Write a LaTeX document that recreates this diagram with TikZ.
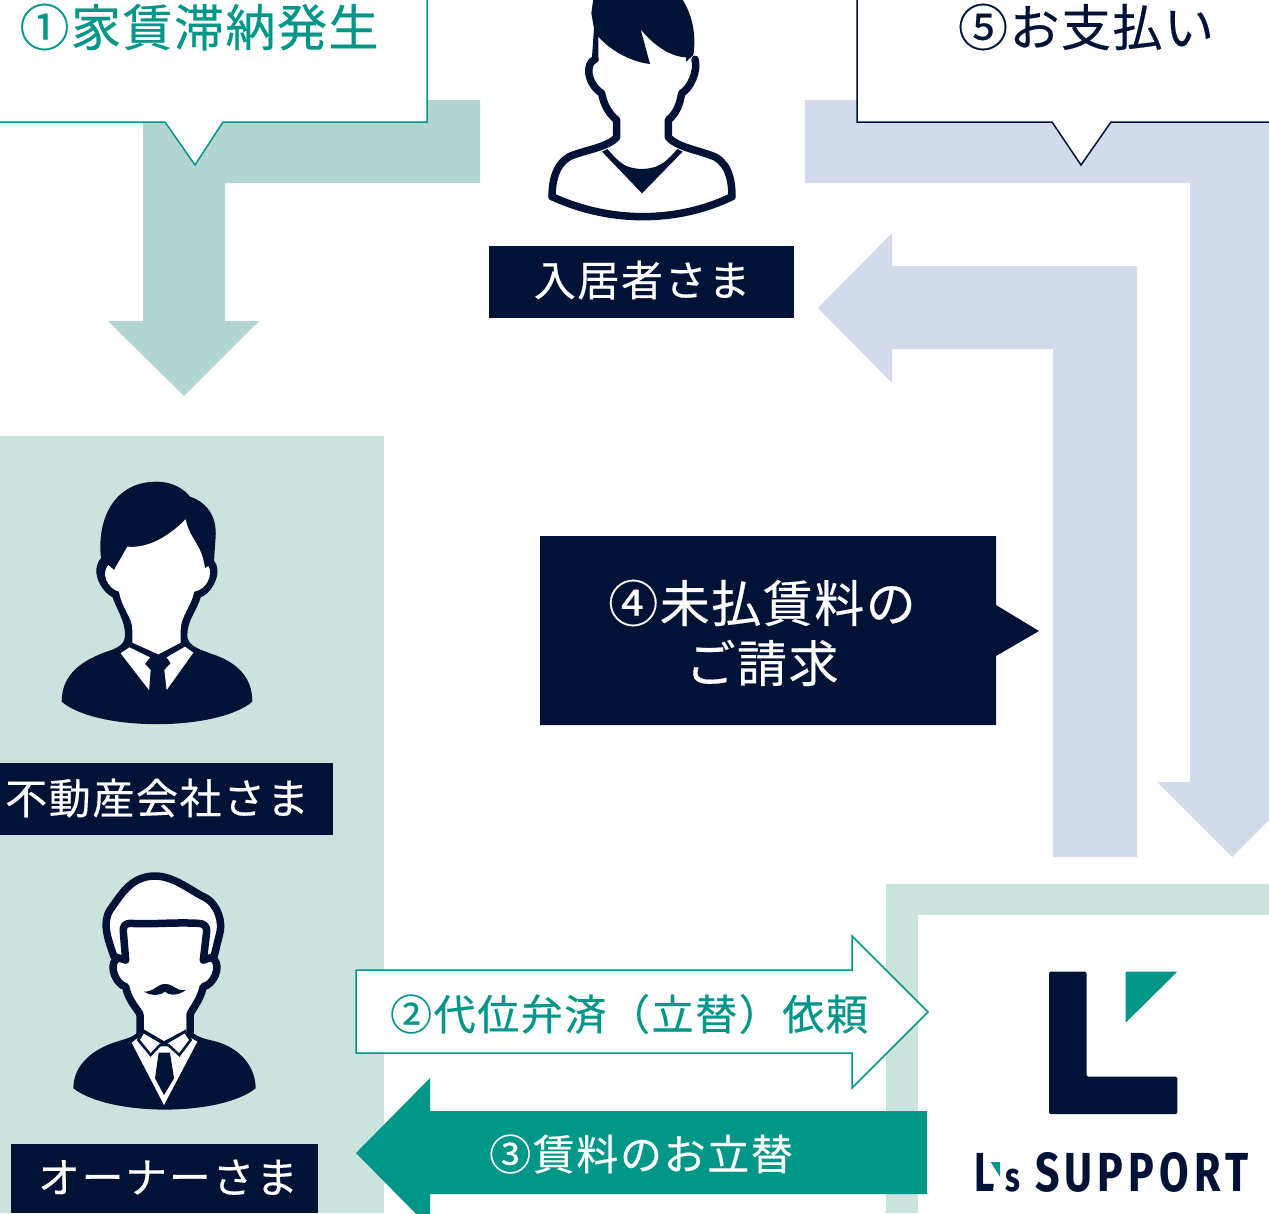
\documentclass[tikz,border=0pt]{standalone}
\usepackage{fontspec}
\newfontfamily\jp{Noto Sans CJK JP}[FakeBold=0.35]
\newfontfamily\logofont{Fira Sans}[BoldFont={Fira Sans Bold}]
\definecolor{navy}{HTML}{001236}
\definecolor{teal1}{HTML}{009688}
\definecolor{arrowteal}{HTML}{B2D5D2}
\definecolor{panelteal}{HTML}{CBE3DF}
\definecolor{lav}{HTML}{D3DAEC}
\tikzset{
  big/.style={anchor=base,inner sep=0pt,font=\jp\fontsize{50}{50}\selectfont\addfontfeature{LetterSpace=3}},
  small/.style={anchor=base,inner sep=0pt,font=\jp\fontsize{42}{42}\selectfont\addfontfeature{LetterSpace=3.8}},
  stkz/.style={draw=navy,line width=7.5pt,line join=round,line cap=round},
}
\begin{document}
\begin{tikzpicture}[x=1pt,y=-1pt]
\useasboundingbox (0,0) rectangle (1269,1213);
\begin{scope}
\clip (0,0) rectangle (1269,1213);
\fill[white] (0,0) rectangle (1269,1213);
% panels
\fill[panelteal] (0,436) rectangle (384,1213);
\fill[panelteal] (886,884) rectangle (1269,1213);
\fill[white] (918,915) rectangle (1269,1213);
% big arrows
\fill[arrowteal] (480,100) -- (143,100) -- (143,321) -- (108,321) -- (184,396) -- (259,321) -- (225,321) -- (225,183) -- (480,183) -- cycle;
\fill[lav] (805,100) -- (1269,100) -- (1269,820) -- (1232,857) -- (1157,782) -- (1190,782) -- (1190,183) -- (805,183) -- cycle;
\fill[lav] (818,308) -- (892,233) -- (892,266) -- (1137,266) -- (1137,857) -- (1053,857) -- (1053,349) -- (892,349) -- (892,383) -- cycle;
% callouts
\draw[teal1,fill=white,line width=1.5pt] (-5,-5) -- (427,-5) -- (427,122) -- (223,122) -- (195,165) -- (165,122) -- (-5,122) -- cycle;
\draw[navy,fill=white,line width=1.5pt] (857,-5) -- (857,122) -- (1052,122) -- (1081,165) -- (1111,122) -- (1275,122) -- (1275,-5) -- cycle;
\fill[navy] (540,536) -- (996,536) -- (996,605) -- (1039,631) -- (996,656) -- (996,725) -- (540,725) -- cycle;
% label bars
\fill[navy] (489,246) rectangle (794,318);
\fill[navy] (0,763) rectangle (333,835);
\fill[navy] (11,1144) rectangle (318,1213);
% arrows 2 and 3
\draw[teal1,fill=white,line width=1.5pt] (356,970) -- (852,970) -- (852,936) -- (928,1012) -- (852,1088) -- (852,1053) -- (356,1053) -- cycle;
\fill[teal1] (927,1111) -- (430,1111) -- (430,1078) -- (356,1153) -- (430,1228) -- (430,1194) -- (927,1194) -- cycle;

% resident
\begin{scope}[shift={(530,0)},scale=0.33333]
\draw[stkz] (66,590) .. controls (240,670) and (440,670) .. (606,590)
  .. controls (606,530) and (590,480) .. (540,465)
  .. controls (500,450) and (440,440) .. (415,412) -- (415,360)
  .. controls (440,340) and (450,310) .. (455,280)
  .. controls (480,265) and (505,215) .. (495,178);
\draw[stkz] (195,178)
  .. controls (165,190) and (170,250) .. (215,280)
  .. controls (220,310) and (235,340) .. (260,360) -- (260,412)
  .. controls (235,440) and (170,450) .. (130,465)
  .. controls (85,480) and (66,530) .. (66,590);
\fill[navy] (190,-5) -- (184,40) -- (192,85) -- (185,185) -- (205,185) -- (205,110)
  .. controls (240,150) and (300,185) .. (360,192) -- (332,88)
  .. controls (370,135) and (420,170) .. (468,172) -- (468,185) -- (490,165)
  .. controls (500,100) and (485,40) .. (455,-5) -- cycle;
\fill[navy] (216,455) -- (232,447) .. controls (270,490) and (285,505) .. (336,507)
  .. controls (385,505) and (405,490) .. (442,447) -- (458,455) -- (336,580) -- cycle;
\end{scope}

% agent
\begin{scope}[shift={(50,470)},scale=0.33333]
\fill[navy] (35,695) .. controls (35,610) and (100,570) .. (170,545)
  .. controls (200,535) and (225,525) .. (225,495) .. controls (225,450) and (200,420) .. (188,382)
  .. controls (150,362) and (120,300) .. (153,265)
  .. controls (140,150) and (190,35) .. (320,35)
  .. controls (370,35) and (405,60) .. (420,80)
  .. controls (480,100) and (500,150) .. (497,200) -- (492,272)
  .. controls (518,300) and (492,367) .. (452,382)
  .. controls (442,420) and (412,450) .. (412,495)
  .. controls (412,525) and (440,535) .. (480,550)
  .. controls (560,575) and (607,620) .. (607,695)
  .. controls (500,785) and (140,785) .. (35,695) -- cycle;
\fill[white] (232,230) .. controls (290,235) and (350,205) .. (407,148)
  .. controls (420,210) and (455,220) .. (465,295) -- (475,288)
  .. controls (490,310) and (472,358) .. (433,365)
  .. controls (423,410) and (392,440) .. (392,480) -- (392,518) -- (325,553) -- (247,518) -- (247,480)
  .. controls (247,440) and (217,420) .. (207,365)
  .. controls (172,355) and (152,310) .. (175,285) -- (192,300) -- cycle;
\fill[white] (212,550) -- (238,532) -- (300,562) -- (285,582) -- (302,600) -- (297,660) -- cycle;
\fill[white] (430,548) -- (405,530) -- (350,562) -- (362,580) -- (343,600) -- (350,660) -- cycle;
\end{scope}

% owner
\begin{scope}[shift={(60,860)},scale=0.33333]
\fill[navy] (40,685) .. controls (40,620) and (90,570) .. (170,545)
  .. controls (200,535) and (235,530) .. (240,500) -- (390,500)
  .. controls (395,530) and (430,535) .. (470,545)
  .. controls (540,565) and (587,620) .. (587,685)
  .. controls (480,770) and (150,770) .. (40,685) -- cycle;
% white head area
\fill[white] (165,295) .. controls (145,320) and (170,375) .. (197,380)
  .. controls (205,425) and (240,455) .. (240,465) -- (240,520) -- (390,520) -- (390,465)
  .. controls (390,455) and (420,425) .. (430,380)
  .. controls (460,375) and (485,320) .. (465,295)
  -- (478,225) .. controls (490,190) and (475,130) .. (430,110)
  .. controls (390,90) and (340,48) .. (285,48)
  .. controls (210,48) and (180,110) .. (150,150)
  .. controls (125,190) and (145,240) .. (162,290) -- cycle;
% face edges
\draw[stkz] (168,298) .. controls (145,320) and (170,375) .. (197,380)
  .. controls (205,425) and (240,455) .. (240,465) -- (240,520);
\draw[stkz] (390,520) -- (390,465)
  .. controls (390,455) and (420,425) .. (430,380)
  .. controls (460,375) and (485,320) .. (462,298);
% hair outline
\draw[stkz] (197,300) -- (162,290) .. controls (145,240) and (125,190) .. (150,150)
  .. controls (180,110) and (210,48) .. (285,48)
  .. controls (340,48) and (390,90) .. (430,110)
  .. controls (475,130) and (490,190) .. (478,225) -- (462,290) -- (430,300);
\draw[stkz] (197,300) -- (190,215) .. controls (188,200) and (195,190) .. (210,190)
  .. controls (280,194) and (340,186) .. (415,190)
  .. controls (432,190) and (442,200) .. (440,215) -- (430,300);
% collar
\fill[white] (215,548) -- (312,735) -- (412,545) -- (395,535) -- (312,545) -- (232,535) -- cycle;
\filldraw[draw=navy,line width=2.5pt,fill=white] (235,540) -- (250,515) -- (312,552) -- (375,515) -- (392,540) -- (358,585) -- (325,555) -- (300,555) -- (272,585) -- cycle;
\fill[navy] (250,515) -- (312,552) -- (375,515) -- (380,505) -- (250,505) -- cycle;
\fill[white] (252,508) -- (312,543) -- (378,508) -- (378,480) -- (252,480) -- cycle;
\fill[navy] (296,578) -- (330,578) -- (342,655) -- (312,705) -- (285,655) -- cycle;
\fill[navy] (252,395) .. controls (285,395) and (290,372) .. (315,372)
  .. controls (345,372) and (345,395) .. (378,390)
  .. controls (350,410) and (325,405) .. (315,395)
  .. controls (305,405) and (275,410) .. (252,395) -- cycle;
\end{scope}

% logo
\begin{scope}[shift={(960,950)},scale=0.33333]
\fill[navy,rounded corners=1.5pt] (267,65) -- (380,65) -- (380,380) -- (652,380) -- (652,492) -- (267,492) -- cycle;
\fill[teal1,rounded corners=1pt] (497,65) -- (652,65) -- (497,218) -- cycle;
\fill[teal1] (92,636) -- (120,636) -- (120,680) -- cycle;
\end{scope}
\end{scope}
% texts
\node[big,teal1] (t1) at (199,46) {①家賃滞納発生};
\node[big,navy] (t5) at (1086,46) {⑤お支払い};
\node[small,white] (resident) at (642,296) {入居者さま};
\node[big,white] (t4a) at (762,622) {④未払賃料の};
\node[big,white] (t4b) at (762,682) {ご請求};
\node[small,white] (agent) at (157,814) {不動産会社さま};
\node[small,white] (owner) at (168,1193) {オーナーさま};
\node[small,teal1] (t2) at (629,1030) {②代位弁済（立替）依頼};
\node[small,white] (t3) at (641,1170) {③賃料のお立替};
\node[anchor=base west,inner sep=0pt,navy,xscale=0.72,font=\logofont\bfseries\fontsize{55}{55}\selectfont] (logoL) at (974,1191) {L};
\node[anchor=base west,inner sep=0pt,navy,xscale=0.75,font=\logofont\bfseries\fontsize{41}{41}\selectfont] (logoS) at (1005,1191) {s};
\node[anchor=base west,inner sep=0pt,navy,xscale=0.78,font=\logofont\bfseries\fontsize{55}{55}\selectfont\addfontfeature{LetterSpace=12}] (logoT) at (1035,1191) {SUPPORT};
\end{tikzpicture}
\end{document}
